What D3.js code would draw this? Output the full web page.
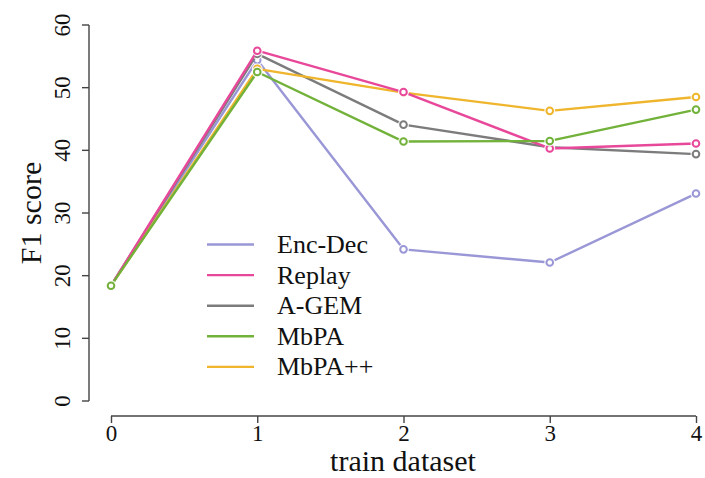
<!DOCTYPE html>
<html>
<head>
<meta charset="utf-8">
<script src="https://cdn.jsdelivr.net/npm/d3@7"></script>
<style>
  body { margin: 0; background: #fff; }
  svg text { font-family: "Liberation Serif", "DejaVu Serif", serif !important; fill: #111; }
</style>
</head>
<body>
<div id="chart"></div>
<script>
var trainSets = [0, 1, 2, 3, 4];
var yTicks = [0, 10, 20, 30, 40, 50, 60];
var seriesNames = ["Enc-Dec", "Replay", "A-GEM", "MbPA", "MbPA++"];
var seriesColors = ["#9a97d6", "#e8489a", "#7c7c7c", "#72b23a", "#efb52c"];

var encDec = [18.4, 54.4, 24.2, 22.1, 33.1];
var replay = [18.4, 55.9, 49.3, 40.3, 41.1];
var agem   = [18.4, 55.4, 44.1, 40.5, 39.4];
var mbpa   = [18.4, 52.5, 41.4, 41.5, 46.5];
var mbpapp = [18.4, 53.0, 49.2, 46.3, 48.5];

var seriesValues = [encDec, replay, agem, mbpa, mbpapp];
// drawing order (last on top)
var drawOrder = [0, 2, 4, 1, 3];

var W = 705, H = 478;
var serif = "Liberation Serif";

var svg = d3.select("#chart").append("svg")
    .attr("width", W)
    .attr("height", H);

var x = d3.scaleLinear().domain([0, 4]).range([111, 696]);
var y = d3.scaleLinear().domain([0, 60]).range([401, 25]);

// y axis (R style, detached from x axis)
var yAxis = svg.append("g")
    .attr("transform", "translate(89,0)")
    .call(d3.axisLeft(y).tickValues(yTicks).tickSize(7).tickFormat(d3.format("d")));
yAxis.attr("font-family", serif);
yAxis.select(".domain").attr("d", "M0," + y(0) + "V" + y(60));
yAxis.selectAll("line, .domain").attr("stroke", "#444").attr("stroke-width", 1.4);
yAxis.selectAll(".tick").attr("transform", null);
yAxis.selectAll(".tick line").attr("transform", function(d){ return "translate(0," + y(d) + ")"; });
yAxis.selectAll("text")
    .attr("transform", function(d){ return "translate(-19," + y(d) + ") rotate(-90)"; })
    .attr("x", 0).attr("y", 0).attr("dy", 0)
    .attr("text-anchor", "middle")
    .attr("font-size", 23);

// x axis
var xAxis = svg.append("g")
    .attr("transform", "translate(0,416)")
    .call(d3.axisBottom(x).tickValues(trainSets).tickSize(7).tickPadding(2).tickFormat(d3.format("d")));
xAxis.attr("font-family", serif);
xAxis.select(".domain").attr("d", "M" + x(0) + ",0H" + x(4));
xAxis.selectAll("line, .domain").attr("stroke", "#444").attr("stroke-width", 1.4);
xAxis.selectAll("text").attr("font-size", 23);

// axis titles
svg.append("text")
    .attr("transform", "translate(41,213) rotate(-90)")
    .attr("text-anchor", "middle")
    .attr("font-size", 30)
    .text("F1 score");

svg.append("text")
    .attr("x", 403)
    .attr("y", 471)
    .attr("text-anchor", "middle")
    .attr("font-size", 30)
    .text("train dataset");

var line = d3.line()
    .x(function(d, i){ return x(trainSets[i]); })
    .y(function(d){ return y(d); });

var plot = svg.append("g");

drawOrder.forEach(function(k) {
    var g = plot.append("g");
    g.append("path")
        .datum(seriesValues[k])
        .attr("d", line)
        .attr("fill", "none")
        .attr("stroke", seriesColors[k])
        .attr("stroke-width", 2.4)
        .attr("stroke-linejoin", "round");
    g.selectAll("circle.halo")
        .data(seriesValues[k])
        .enter().append("circle")
        .attr("class", "halo")
        .attr("cx", function(d, i){ return x(trainSets[i]); })
        .attr("cy", function(d){ return y(d); })
        .attr("r", 5.5)
        .attr("fill", "#fff")
        .attr("opacity", 0.85);
    g.selectAll("circle.pt")
        .data(seriesValues[k])
        .enter().append("circle")
        .attr("class", "pt")
        .attr("cx", function(d, i){ return x(trainSets[i]); })
        .attr("cy", function(d){ return y(d); })
        .attr("r", 3.3)
        .attr("fill", "#fff")
        .attr("stroke", seriesColors[k])
        .attr("stroke-width", 2);
});

// legend
var legend = svg.selectAll(".legend")
    .data(seriesNames)
    .enter().append("g")
    .attr("class", "legend")
    .attr("transform", function(d, i){ return "translate(207," + (244.5 + i * 30.6) + ")"; });

legend.append("line")
    .attr("x1", 0).attr("x2", 47)
    .attr("y1", 0).attr("y2", 0)
    .attr("stroke", function(d, i){ return seriesColors[i]; })
    .attr("stroke-width", 2.4);

legend.append("text")
    .attr("x", 70)
    .attr("y", 8.5)
    .attr("font-size", 26)
    .text(function(d){ return d; });
</script>
</body>
</html>
